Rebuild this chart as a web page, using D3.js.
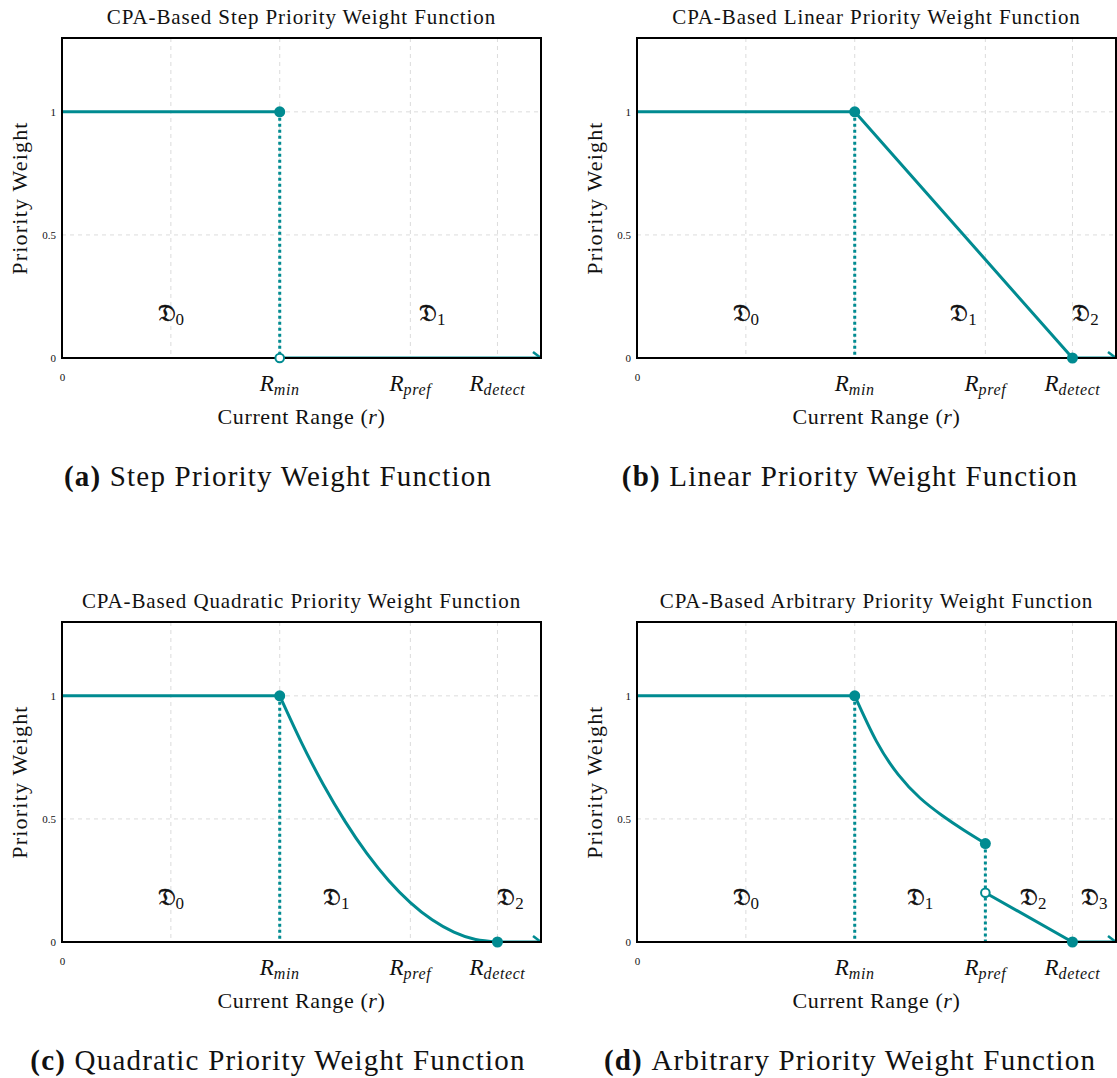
<!DOCTYPE html>
<html>
<head>
<meta charset="utf-8">
<script src="https://cdn.jsdelivr.net/npm/d3@7"></script>
<style>
  body { margin: 0; background: #fff; }
  svg text { font-family: "Liberation Serif", "DejaVu Serif", serif; fill: #111; }
</style>
</head>
<body>
<div id="chart"></div>
<script>
// key ranges along the x axis
const rTicks = [0, 25, 50, 80, 100];
const rMax = 110;
const rLabels = [["min", 50], ["pref", 80], ["detect", 100]];
const wTicks = [0, 0.5, 1];

// step function
const stepHigh = [[0, 1], [50, 1]];
const stepLow = [[50, 0], [110, 0]];

// linear function
const linearPts = [[0, 1], [50, 1], [100, 0], [110, 0]];

// quadratic function
const quadR = [50, 55, 60, 65, 70, 75, 80, 85, 90, 95, 100];
const quadW = [1, 0.81, 0.64, 0.49, 0.36, 0.25, 0.16, 0.09, 0.04, 0.01, 0];

// arbitrary function
const arbR = [50, 55, 60, 65, 70, 75, 80];
const arbW = [1, 0.815, 0.68, 0.585, 0.515, 0.455, 0.4];
const arbLow = [[80, 0.2], [100, 0], [110, 0]];

const titles = ["CPA-Based Step Priority Weight Function", "CPA-Based Linear Priority Weight Function",
  "CPA-Based Quadratic Priority Weight Function", "CPA-Based Arbitrary Priority Weight Function"];
const captions = [["(a)", "Step Priority Weight Function"], ["(b)", "Linear Priority Weight Function"],
  ["(c)", "Quadratic Priority Weight Function"], ["(d)", "Arbitrary Priority Weight Function"]];

const zip = (xs, ys) => xs.map((x, i) => [x, ys[i]]);

// each line: [points, smooth?]
const panels = [
  { lines: [[stepHigh, false], [stepLow, false]], dotted: [[50, 1]], filled: [[50, 1]], open: [[50, 0]],
    regions: [["0", 25], ["1", 85]] },
  { lines: [[linearPts, false]], dotted: [[50, 1]], filled: [[50, 1], [100, 0]], open: [],
    regions: [["0", 25], ["1", 75], ["2", 103]] },
  { lines: [[stepHigh, false], [zip(quadR, quadW), true], [[[100, 0], [110, 0]], false]], dotted: [[50, 1]],
    filled: [[50, 1], [100, 0]], open: [],
    regions: [["0", 25], ["1", 63], ["2", 103]] },
  { lines: [[stepHigh, false], [zip(arbR, arbW), true], [arbLow, false]], dotted: [[50, 1], [80, 0.4]],
    filled: [[50, 1], [80, 0.4], [100, 0]], open: [[80, 0.2]],
    regions: [["0", 25], ["1", 65], ["2", 91], ["3", 105]] }
];

const color = "#008b91";
const width = 1117, height = 1078;
const pw = 479, ph = 320;
const origins = [[62, 38], [637, 38], [62, 622], [637, 622]];

const svg = d3.select("#chart").append("svg")
  .attr("width", width).attr("height", height);

const x = d3.scaleLinear().domain([0, rMax]).range([0, pw]);
const y = d3.scaleLinear().domain([0, 1.3]).range([ph, 0]);
const straight = d3.line().x(d => x(d[0])).y(d => y(d[1]));
const smooth = d3.line().x(d => x(d[0])).y(d => y(d[1])).curve(d3.curveNatural);

panels.forEach((p, i) => {
  const [ox, oy] = origins[i];
  const g = svg.append("g").attr("transform", `translate(${ox},${oy})`);

  g.append("clipPath").attr("id", "clip" + i)
    .append("rect").attr("width", pw).attr("height", ph);

  // grid
  g.append("g").selectAll("line").data(rTicks.slice(1)).join("line")
    .attr("x1", d => x(d)).attr("x2", d => x(d)).attr("y1", 0).attr("y2", ph)
    .attr("stroke", "#dcdcdc").attr("stroke-dasharray", "4,4");
  g.append("g").selectAll("line").data(wTicks.slice(1)).join("line")
    .attr("x1", 0).attr("x2", pw).attr("y1", d => y(d)).attr("y2", d => y(d))
    .attr("stroke", "#dcdcdc").attr("stroke-dasharray", "4,4");

  // axes (labels only)
  g.append("g").attr("transform", `translate(0,${ph})`)
    .call(d3.axisBottom(x).tickValues([0]).tickSize(0).tickPadding(15).tickFormat(d3.format("d")))
    .call(a => a.select(".domain").remove())
    .call(a => a.selectAll("text").attr("font-size", 11).attr("font-family", "Liberation Serif"));
  g.append("g")
    .call(d3.axisLeft(y).tickValues(wTicks).tickSize(0).tickPadding(6).tickFormat(d => d))
    .call(a => a.select(".domain").remove())
    .call(a => a.selectAll("text").attr("font-size", 11).attr("font-family", "Liberation Serif"));

  // curves
  const lg = g.append("g").attr("clip-path", `url(#clip${i})`);
  p.lines.forEach(([pts, sm]) => {
    lg.append("path").attr("d", (sm ? smooth : straight)(pts))
      .attr("fill", "none").attr("stroke", color).attr("stroke-width", 3);
  });
  // arrow at the far end
  lg.append("path")
    .attr("d", `M${x(rMax) - 8},${y(0) - 6}L${x(rMax)},${y(0)}L${x(rMax) - 8},${y(0) + 6}`)
    .attr("fill", "none").attr("stroke", color).attr("stroke-width", 2.5);

  // dotted drop lines
  g.append("g").selectAll("line").data(p.dotted).join("line")
    .attr("x1", d => x(d[0])).attr("x2", d => x(d[0]))
    .attr("y1", d => y(d[1])).attr("y2", y(0))
    .attr("stroke", color).attr("stroke-width", 3).attr("stroke-dasharray", "3,3");

  // frame
  g.append("rect").attr("width", pw).attr("height", ph)
    .attr("fill", "none").attr("stroke", "#000").attr("stroke-width", 2);

  // markers
  g.append("g").selectAll("circle").data(p.filled).join("circle")
    .attr("cx", d => x(d[0])).attr("cy", d => y(d[1])).attr("r", 5.5).attr("fill", color);
  g.append("g").selectAll("circle").data(p.open).join("circle")
    .attr("cx", d => x(d[0])).attr("cy", d => y(d[1])).attr("r", 4.3)
    .attr("fill", "#fff").attr("stroke", color).attr("stroke-width", 2);

  // region labels
  const rt = g.append("g").selectAll("text").data(p.regions).join("text")
    .attr("x", d => x(d[1])).attr("y", y(0.15)).attr("text-anchor", "middle");
  rt.append("tspan").attr("font-size", 24).attr("stroke", "#111").attr("stroke-width", 0.6)
    .attr("font-family", "DejaVu Serif, DejaVu Sans, Noto Sans, serif")
    .text("\u{1D507}");
  rt.append("tspan").attr("font-size", 17).attr("dy", 4).text(d => d[0]);

  // R labels
  const rl = g.append("g").selectAll("text").data(rLabels).join("text")
    .attr("x", d => x(d[1])).attr("y", ph + 33).attr("text-anchor", "middle")
    .attr("font-style", "italic");
  rl.append("tspan").attr("font-size", 23).text("R");
  rl.append("tspan").attr("font-size", 16).attr("letter-spacing", 0.6).attr("dy", 4).text(d => d[0]);

  // axis titles
  const xl = g.append("text").attr("x", pw / 2).attr("y", ph + 66).attr("text-anchor", "middle")
    .attr("font-size", 22).attr("letter-spacing", 0.6);
  xl.append("tspan").text("Current Range (");
  xl.append("tspan").attr("font-style", "italic").text("r");
  xl.append("tspan").text(")");

  g.append("text").attr("transform", `translate(${-35},${ph / 2}) rotate(-90)`)
    .attr("text-anchor", "middle").attr("font-size", 22).attr("letter-spacing", 1.2).text("Priority Weight");

  g.append("text").attr("x", pw / 2).attr("y", -14).attr("text-anchor", "middle")
    .attr("font-size", 21).attr("letter-spacing", 0.9).text(titles[i]);

  // sub-caption
  const cap = svg.append("text").attr("x", i % 2 ? 850 : 278).attr("y", oy + 448)
    .attr("text-anchor", "middle").attr("font-size", 29).attr("letter-spacing", 1.2);
  cap.append("tspan").attr("font-weight", "bold").text(captions[i][0] + " ");
  cap.append("tspan").text(captions[i][1]);
});
</script>
</body>
</html>
